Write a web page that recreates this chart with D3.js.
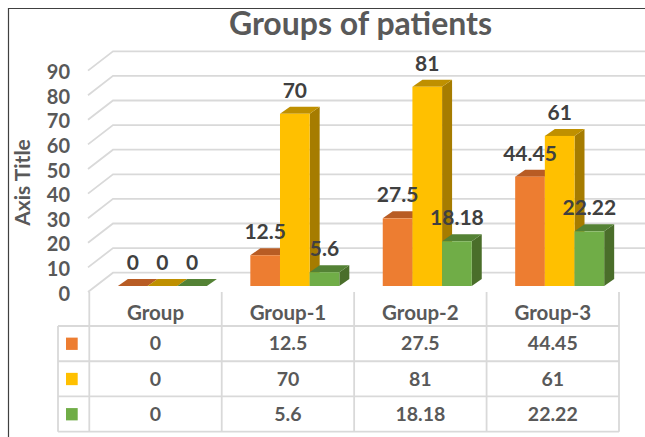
<!DOCTYPE html>
<html>
<head>
<meta charset="utf-8">
<script src="https://cdn.jsdelivr.net/npm/d3@7/dist/d3.min.js"></script>
<style>
  html, body { margin: 0; padding: 0; background: #fff; }
  svg { display: block; }
  text { font-family: Lato, "Open Sans", sans-serif; font-weight: 700; }
</style>
</head>
<body>
<div id="chart"></div>
<script>
var width = 645,
    height = 437;

var categories = ["Group", "Group-1", "Group-2", "Group-3"];
var series1 = [0, 12.5, 27.5, 44.45];
var series2 = [0, 70, 81, 61];
var series3 = [0, 5.6, 18.18, 22.22];
var yTicks = [0, 10, 20, 30, 40, 50, 60, 70, 80, 90];

var seriesValues = [series1, series2, series3];
var seriesNames = ["s1", "s2", "s3"];
var frontColors = ["#ED7D31", "#FFC000", "#70AD47"];
var topColors = ["#B85C24", "#BF9000", "#548235"];
var sideColors = ["#A5571F", "#A67C00", "#4A6E2A"];

var gridColor = "#D9D9D9",
    textColor = "#595959",
    labelColor = "#404040";

// 3d offsets of the box
var depthX = 10,
    depthY = 7,
    wallX = 25,
    backLift = 13.3,
    frontDrop = 6;

var svg = d3.select("#chart")
    .append("svg")
    .attr("width", width)
    .attr("height", height);

var x = d3.scaleBand().domain(categories).range([89.3, 619]);
var xBar = d3.scaleBand().domain(seriesNames).range([28.6, 117.6]);
var y = d3.scaleLinear().domain([0, 90]).range([286, 64.6]);

// chart frame, only top and left show in the picture
svg.append("path")
    .attr("d", "M645,8.5H8.5V437")
    .attr("fill", "none")
    .attr("stroke", "#404040")
    .attr("stroke-width", 1.2);

svg.append("text")
    .attr("x", 360.5)
    .attr("y", 34.5)
    .attr("text-anchor", "middle")
    .attr("font-size", 32)
    .attr("fill", textColor)
    .text("Groups of patients");

// back wall and side wall gridlines
var grid = svg.append("g")
    .attr("fill", "none")
    .attr("stroke", gridColor)
    .attr("stroke-width", 1.8);

grid.selectAll("path")
    .data(yTicks)
    .enter()
    .append("path")
    .attr("d", function (d) {
        var backY = y(d) - backLift;
        return "M88," + (y(d) + frontDrop) + "L113," + backY + "H645";
    });

// value axis
var axis = svg.append("g")
    .attr("transform", "translate(70,7)")
    .call(d3.axisLeft(y).tickValues(yTicks).tickSize(0).tickPadding(0));
axis.select(".domain").remove();
axis.selectAll("text")
    .attr("font-size", 20)
    .attr("fill", textColor)
    .attr("dy", "0.35em")
    .style("font-family", "Lato, sans-serif");

svg.append("text")
    .attr("transform", "translate(30,182.5) rotate(-90)")
    .attr("text-anchor", "middle")
    .attr("font-size", 21)
    .attr("fill", textColor)
    .text("Axis Title");

// bars
var bars = svg.append("g");

seriesValues.forEach(function (values, s) {
    var g = bars.append("g");
    values.forEach(function (v, i) {
        var x0 = x(categories[i]) + xBar(seriesNames[s]),
            x1 = x0 + xBar.bandwidth(),
            top = y(v),
            base = y(0);

        g.append("polygon")
            .attr("fill", sideColors[s])
            .attr("points", [[x1, top], [x1 + depthX, top - depthY], [x1 + depthX, base - depthY], [x1, base]].join(" "));
        g.append("polygon")
            .attr("fill", topColors[s])
            .attr("points", [[x0, top], [x0 + depthX, top - depthY], [x1 + depthX, top - depthY], [x1, top]].join(" "));
        g.append("rect")
            .attr("x", x0)
            .attr("y", top)
            .attr("width", x1 - x0)
            .attr("height", base - top)
            .attr("fill", frontColors[s]);
    });
});

// data labels on top of every bar
seriesValues.forEach(function (values, s) {
    svg.append("g").selectAll("text")
        .data(values)
        .enter()
        .append("text")
        .attr("x", function (d, i) { return x(categories[i]) + xBar(seriesNames[s]) + xBar.bandwidth() / 2; })
        .attr("y", function (d) { return y(d) - 23.5; })
        .attr("dy", "0.35em")
        .attr("text-anchor", "middle")
        .attr("font-size", 21)
        .attr("fill", labelColor)
        .text(function (d) { return d; });
});

// data table under the plot
var rowY = d3.scaleBand().domain(seriesNames).range([326, 431.7]);
var headerY = 313;
var table = svg.append("g")
    .attr("fill", "none")
    .attr("stroke", gridColor)
    .attr("stroke-width", 1.8);

var colEdges = categories.map(function (c) { return x(c); }).concat([x.range()[1]]);

table.selectAll(".col")
    .data(colEdges)
    .enter()
    .append("line")
    .attr("x1", function (d) { return d; })
    .attr("x2", function (d) { return d; })
    .attr("y1", 292)
    .attr("y2", rowY.range()[1]);

table.selectAll(".row")
    .data(seriesNames.map(function (n) { return rowY(n); }).concat([rowY.range()[1]]))
    .enter()
    .append("line")
    .attr("x1", 58)
    .attr("x2", x.range()[1])
    .attr("y1", function (d) { return d; })
    .attr("y2", function (d) { return d; });

table.append("line")
    .attr("x1", 58)
    .attr("x2", 58)
    .attr("y1", rowY.range()[0])
    .attr("y2", rowY.range()[1]);

svg.append("g").selectAll("text")
    .data(categories)
    .enter()
    .append("text")
    .attr("x", function (d) { return x(d) + x.bandwidth() / 2; })
    .attr("y", headerY)
    .attr("dy", "0.35em")
    .attr("text-anchor", "middle")
    .attr("font-size", 20.5)
    .attr("fill", textColor)
    .text(function (d) { return d; });

seriesValues.forEach(function (values, s) {
    var cy = rowY(seriesNames[s]) + rowY.bandwidth() / 2;

    svg.append("rect")
        .attr("x", 66)
        .attr("y", cy - 6)
        .attr("width", 11.7)
        .attr("height", 12.3)
        .attr("fill", frontColors[s]);

    svg.append("g").selectAll("text")
        .data(values)
        .enter()
        .append("text")
        .attr("x", function (d, i) { return x(categories[i]) + x.bandwidth() / 2; })
        .attr("y", cy)
        .attr("dy", "0.35em")
        .attr("text-anchor", "middle")
        .attr("font-size", 19.5)
        .attr("fill", textColor)
        .text(function (d) { return d; });
});
</script>
</body>
</html>
